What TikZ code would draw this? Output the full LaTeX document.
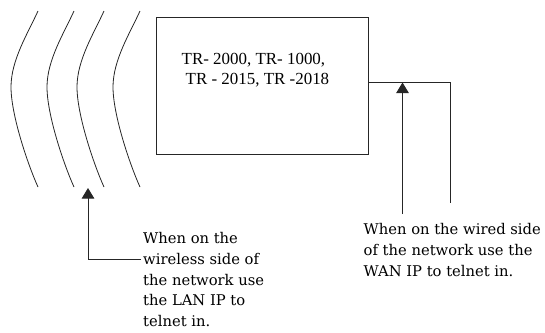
\documentclass[tikz,border=0pt]{standalone}
\usepackage{fontspec}
\setmainfont{Liberation Serif}
\newfontfamily\annfont{DejaVu Serif}
\usetikzlibrary{arrows.meta}
\tikzset{
  x=1bp, y=-1bp,
  line/.style={line width=0.9bp, draw=black!85},
  wave/.style={line width=0.8bp, draw=black!85},
  boxnode/.style={draw=black!85, line width=0.9bp, minimum width=212bp, minimum height=137bp, inner sep=0pt},
  boxtext/.style={font=\fontsize{17}{20}\selectfont, inner sep=0pt, anchor=base west},
  anntext/.style={font=\annfont\fontsize{14.8}{20.8}\selectfont, inner sep=0pt, align=left, anchor=base west},
  tip/.style={-{Triangle[width=12.5bp,length=10.5bp]}},
}
\begin{document}
\begin{tikzpicture}
\useasboundingbox (0,0) rectangle (545,332);
% radio waves
\foreach \dx in {0, 36, 66, 102}{
  \draw[wave] (38+\dx,11) .. controls (28+\dx,33) and (11+\dx,60) .. (11+\dx,87)
                          .. controls (11+\dx,115) and (28+\dx,165) .. (38+\dx,187);
}
% router box
\node[boxnode] (router) at (262,85.5) {};
\node[boxtext] (models1) at (181.5,64) {TR- 2000, TR- 1000,};
\node[boxtext] (models2) at (185.5,84) {TR - 2015, TR -2018};
% annotations (base anchor = baseline of the last line)
\node[anntext] (lan) at (143,326.5) {When on the\\wireless side of\\the network use\\the LAN IP to\\telnet in.};
\node[anntext] (wan) at (363.5,276) {When on the wired side\\of the network use the\\WAN IP to telnet in.};
% wired connector
\coordinate (wcorner) at (450,82);
\coordinate (wend) at (450,203);
\draw[line] (router.east |- wcorner) -- (wcorner) -- (wend);
% arrows
\coordinate (wanfoot) at (402.5,214);
\coordinate (wantip) at (402.5,82.5);
\draw[line, tip] (wanfoot) -- (wantip);
\coordinate (lanstart) at (141,259.5);
\coordinate (lancorner) at (88,259.5);
\coordinate (lantip) at (88,188);
\draw[line, tip] (lanstart) -- (lancorner) -- (lantip);
\end{tikzpicture}
\end{document}
